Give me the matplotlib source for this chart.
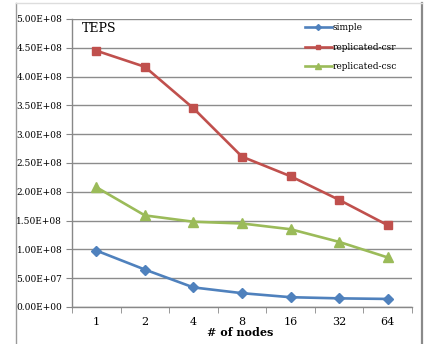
import matplotlib.pyplot as plt
from matplotlib.lines import Line2D

# данные
nodes = ["1", "2", "4", "8", "16", "32", "64"]
simple = [0.98e8, 0.65e8, 0.34e8, 0.24e8, 0.17e8, 0.15e8, 0.14e8]
replicated_csr = [4.45e8, 4.17e8, 3.45e8, 2.61e8, 2.27e8, 1.86e8, 1.42e8]
replicated_csc = [2.08e8, 1.59e8, 1.48e8, 1.45e8, 1.35e8, 1.13e8, 0.86e8]
yticks = [i * 0.5e8 for i in range(11)]

plt.rcParams['font.family'] = ['DejaVu Serif']

fig = plt.figure(figsize=(4.31, 3.44), dpi=100)
ax = fig.add_axes([72 / 431, 1 - 307 / 344, 340 / 431, 288 / 344])

x = list(range(len(nodes)))
ax.plot(x, simple, color='#4F81BD', lw=1.9, marker='D', ms=5, label='simple')
ax.plot(x, replicated_csr, color='#C0504D', lw=1.9, marker='s', ms=6, label='replicated-csr')
ax.plot(x, replicated_csc, color='#9BBB59', lw=1.9, marker='^', ms=6.5, label='replicated-csc')

ax.set_xlim(-0.5, len(nodes) - 0.5)
ax.set_ylim(0, 5e8)
ax.set_yticks(yticks)
ax.set_yticklabels(['%.2fE+%02d' % (v / 10 ** (len(str(int(v))) - 1) if v else 0,
                                   (len(str(int(v))) - 1) if v else 0) for v in yticks],
                   fontsize=6.5)
ax.set_xticks(x)
ax.set_xticklabels(nodes, fontsize=8)
ax.set_xticks([i - 0.5 for i in range(len(nodes) + 1)], minor=True)
ax.tick_params(axis='x', which='major', length=0, pad=7)
ax.tick_params(axis='x', which='minor', length=4, color='#888888', direction='out')
ax.tick_params(axis='y', length=4, color='#888888', pad=3)

# сетка
ax.grid(True, axis='y', color='#8c8c8c', lw=1)
ax.set_axisbelow(True)
for s in ['top', 'right']:
    ax.spines[s].set_visible(False)
for s in ['left', 'bottom']:
    ax.spines[s].set_color('#888888')
    ax.spines[s].set_linewidth(1)

ax.text(0.03, 0.99, 'TEPS', transform=ax.transAxes, fontsize=9, va='top')
fig.text(240 / 431, 1 - 333 / 344, '# of nodes', fontsize=8, fontweight='bold',
         ha='center', va='center')

leg = ax.legend(loc='upper left', bbox_to_anchor=(0.685, 0.985), frameon=False,
                fontsize=6.5, handlelength=3.0, handletextpad=0.05, labelspacing=1.15,
                borderaxespad=0, borderpad=0, markerscale=0.6)

# рамка
fig.add_artist(Line2D([16 / 431, 16 / 431], [0, 1 - 3 / 344], color='#9a9a9a', lw=1))
fig.add_artist(Line2D([422 / 431, 422 / 431], [0, 1 - 3 / 344], color='#8a8a8a', lw=1.6))
fig.add_artist(Line2D([16 / 431, 422 / 431], [1 - 3 / 344, 1 - 3 / 344], color='#dddddd', lw=1))

fig.savefig('out.png', dpi=100)
